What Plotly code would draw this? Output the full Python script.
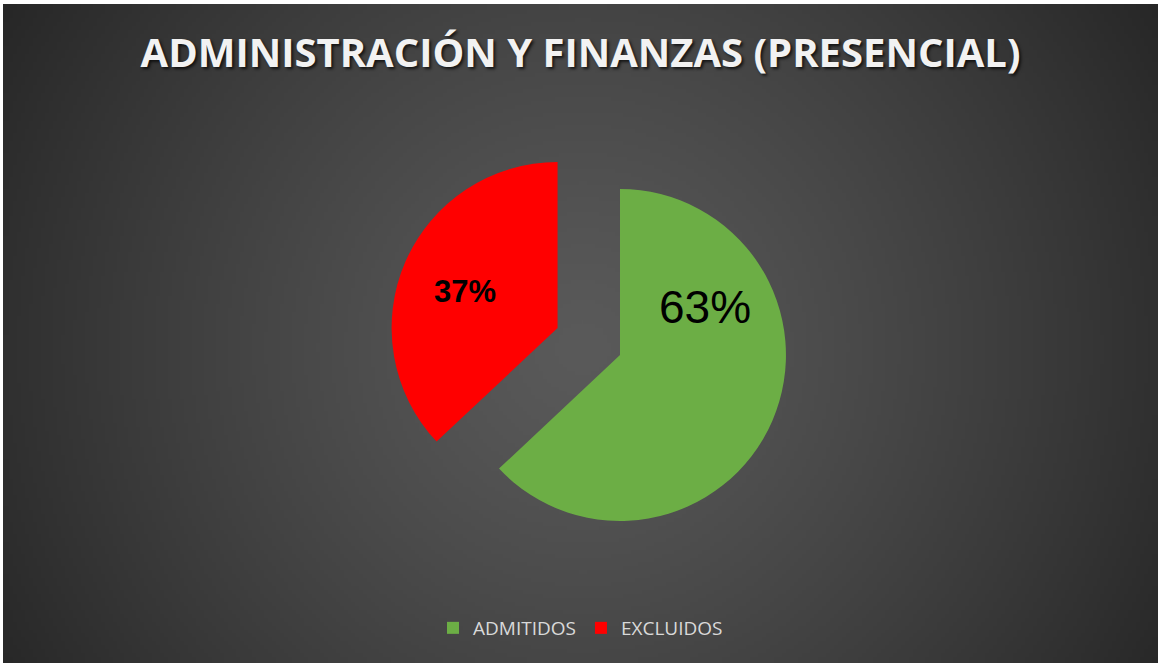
import base64, struct, zlib
import numpy as np
import plotly.graph_objects as go

# ---- data ----
labels = ["ADMITIDOS", "EXCLUIDOS"]
values = [63, 37]
colors = ["#6cae45", "#ff0000"]
pulls = [0, 0.41]
title_text = "ADMINISTRACIÓN Y FINANZAS (PRESENCIAL)"

W, H = 1161, 664

# ---- radial gradient background as PNG ----
def make_png(arr):
    h, w, _ = arr.shape
    raw = b"".join(b"\x00" + arr[i].tobytes() for i in range(h))
    def chunk(t, d):
        c = struct.pack(">I", len(d)) + t + d
        return c + struct.pack(">I", zlib.crc32(t + d) & 0xffffffff)
    png = b"\x89PNG\r\n\x1a\n"
    png += chunk(b"IHDR", struct.pack(">IIBBBBB", w, h, 8, 2, 0, 0, 0))
    png += chunk(b"IDAT", zlib.compress(raw, 9))
    png += chunk(b"IEND", b"")
    return "data:image/png;base64," + base64.b64encode(png).decode()

sc = 4
gw, gh = W // sc, H // sc
yy, xx = np.mgrid[0:gh, 0:gw]
px = xx * sc - 580.0
py = yy * sc - 345.0
dist = np.sqrt(px ** 2 + py ** 2) / 667.0
v = np.clip(90.0 - 50.0 * dist ** 1.25, 36, 92)
img = np.stack([v, v, v], axis=-1).astype(np.uint8)
bg_src = make_png(img)

# label text placement (paper fraction) and style
label_pos = {"ADMITIDOS": (705 / W, 1 - 307 / H), "EXCLUIDOS": (465 / W, 1 - 292 / H)}
label_size = {"ADMITIDOS": 46, "EXCLUIDOS": 31}
label_bold = {"ADMITIDOS": False, "EXCLUIDOS": True}

fig = go.Figure()
fig.add_trace(go.Pie(
    labels=labels,
    values=values,
    marker=dict(colors=colors, line=dict(width=0)),
    pull=pulls,
    sort=False,
    direction="clockwise",
    rotation=0,
    textinfo="none",
    domain=dict(x=[(620 - 300) / W, (620 + 300) / W],
                y=[(664 - 589) / H, (664 - 121) / H]),
    hoverinfo="label+percent",
    showlegend=True,
))

total = sum(values)
ann = []
for lab, val in zip(labels, values):
    x, y = label_pos[lab]
    t = f"{round(100 * val / total)}%"
    if label_bold[lab]:
        t = "<b>" + t + "</b>"
    ann.append(dict(text=t, x=x, y=y, xref="paper", yref="paper", showarrow=False,
                    xanchor="center", yanchor="middle",
                    font=dict(family="Arial, Liberation Sans", size=label_size[lab],
                              color="black")))

fig.update_layout(
    width=W, height=H,
    margin=dict(l=0, r=0, t=0, b=0),
    paper_bgcolor="white",
    annotations=ann,
    images=[dict(source=bg_src, xref="paper", yref="paper",
                 x=3 / W, y=1 - 4 / H, sizex=(W - 6) / W, sizey=(H - 5) / H,
                 xanchor="left", yanchor="top", sizing="stretch", layer="below")],
    title=dict(text="<b>" + title_text + "</b>", x=0.5, xanchor="center",
               y=1 - 53 / H, yanchor="middle",
               font=dict(family="Open Sans", size=40, color="#f2f2f2",
                         shadow="2px 2px 3px rgba(0,0,0,0.7)")),
    legend=dict(orientation="h", x=0.5, xanchor="center", y=(664 - 628) / H,
                yanchor="middle", font=dict(family="Open Sans", size=19, color="#d9d9d9"),
                itemwidth=30, bgcolor="rgba(0,0,0,0)", traceorder="normal"),
)

fig.write_html("out.html", config={"displayModeBar": False},
               post_script="document.body.style.margin='0';")
